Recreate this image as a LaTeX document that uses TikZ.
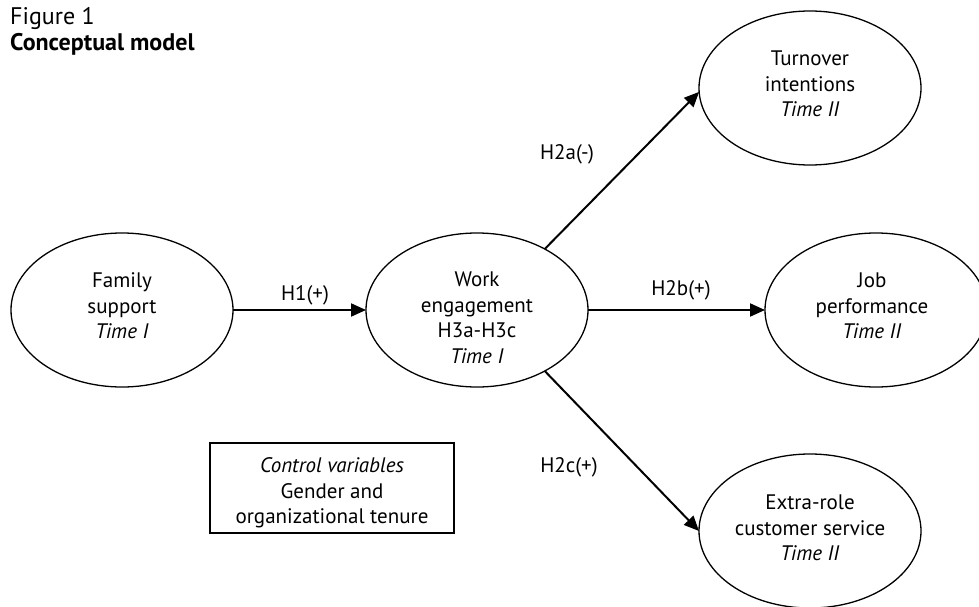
\documentclass[tikz,border=0pt]{standalone}
\usepackage{fontspec}
\setmainfont{PT Sans}
\usetikzlibrary{shapes.geometric,arrows.meta}
\begin{document}
\begin{tikzpicture}[x=1pt,y=-1pt,
  ell/.style={draw,ellipse,line width=1.3pt,minimum width=222pt,minimum height=154pt,inner sep=0pt,outer sep=0pt},
  txt/.style={align=center,font=\fontsize{21}{25.5}\selectfont},
  lbl/.style={font=\fontsize{21}{25}\selectfont},
  conn/.style={line width=2pt,-{Triangle[length=15pt,width=13pt]}},
  cbox/.style={draw,line width=1.3pt,minimum width=244pt,minimum height=90pt,inner sep=0pt,outer sep=0pt}]
\useasboundingbox (0,0) rectangle (979,607);
% title
\node[anchor=base west,inner sep=0pt,font=\fontsize{24}{28}\selectfont] (t1) at (10,25) {Figure 1};
\node[anchor=base west,inner sep=0pt,font=\fontsize{24}{28}\selectfont\bfseries] (t2) at (10,51) {Conceptual model};
% ellipses
\node[ell] (fs) at (122,310) {};
\node[ell] (we) at (477,310) {};
\node[ell] (to) at (810,88) {};
\node[ell] (jp) at (876,310) {};
\node[ell] (er) at (810,531) {};
% texts
\node[txt] (fst) at (122,306) {Family\\support\\\textit{Time I}};
\node[txt] (wet) at (477,318) {Work\\engagement\\H3a-H3c\\\textit{Time I}};
\node[txt] (tot) at (810,84) {Turnover\\intentions\\\textit{Time II}};
\node[txt] (jpt) at (872,306) {Job\\performance\\\textit{Time II}};
\node[txt] (ert) at (810,528) {Extra-role\\customer service\\\textit{Time II}};
% control box
\node[cbox] (cv) at (332,488) {};
\node[txt] (cvt) at (332,493) {\textit{Control variables}\\Gender and\\organizational tenure};
% connectors
\draw[conn] (fs.east) -- (we.west);
\draw[conn] (we.east) -- (jp.west);
\draw[conn] (we.42) -- (to.182);
\draw[conn] (we.-42) -- (er.180);
% labels
\node[lbl] (l1) at (305,295) {H1(+)};
\node[lbl] (l2) at (681,290) {H2b(+)};
\node[lbl] (l3) at (567,154) {H2a(-)};
\node[lbl] (l4) at (569,467) {H2c(+)};
\end{tikzpicture}
\end{document}
